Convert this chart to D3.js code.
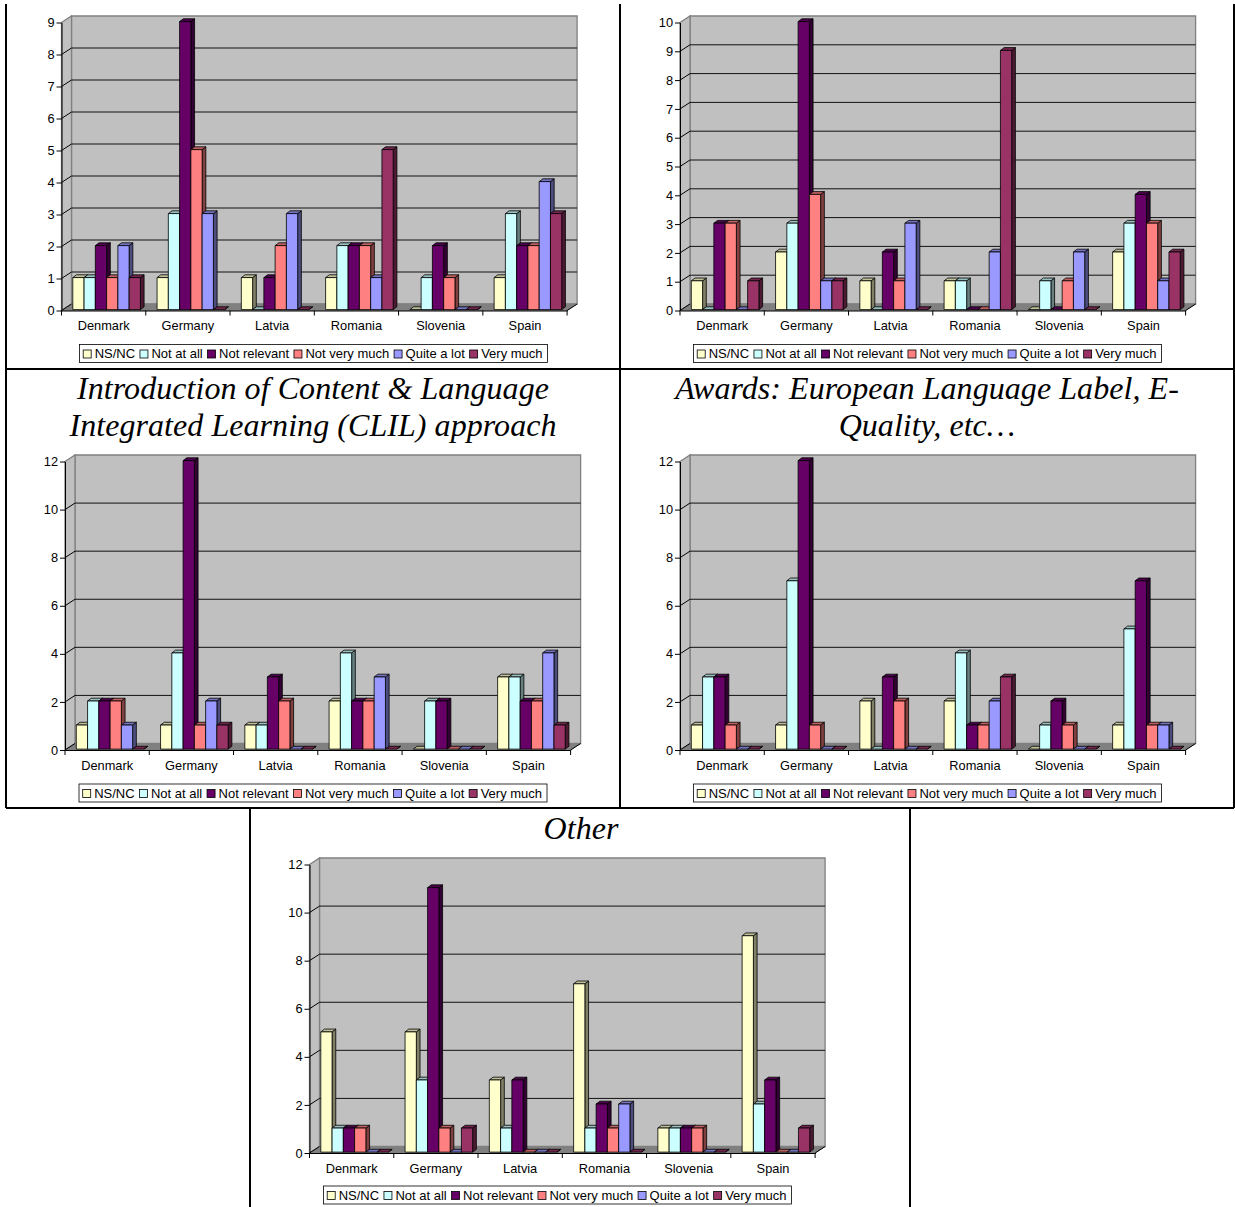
<!DOCTYPE html>
<html><head><meta charset="utf-8">
<script src="https://cdn.jsdelivr.net/npm/d3@7"></script>
<style>html,body{margin:0;padding:0;background:#fff}svg{display:block}</style>
</head><body><svg id="c" width="1235" height="1207"></svg>
<script>
const categories = ["Denmark","Germany","Latvia","Romania","Slovenia","Spain"];
const seriesNames = ["NS/NC","Not at all","Not relevant","Not very much","Quite a lot","Very much"];
const seriesColors = ["#FFFFCC","#CCFFFF","#660066","#FF8080","#9999FF","#993366"];
// one row per category, one value per series
const valuesA = [[1,1,2,1,2,1],[1,3,9,5,3,0],[1,0,1,2,3,0],[1,2,2,2,1,5],[0,1,2,1,0,0],[1,3,2,2,4,3]];
const valuesB = [[1,0,3,3,0,1],[2,3,10,4,1,1],[1,0,2,1,3,0],[1,1,0,0,2,9],[0,1,0,1,2,0],[2,3,4,3,1,2]];
const valuesC = [[1,2,2,2,1,0],[1,4,12,1,2,1],[1,1,3,2,0,0],[2,4,2,2,3,0],[0,2,2,0,0,0],[3,3,2,2,4,1]];
const valuesD = [[1,3,3,1,0,0],[1,7,12,1,0,0],[2,0,3,2,0,0],[2,4,1,1,2,3],[0,1,2,1,0,0],[1,5,7,1,1,0]];
const valuesE = [[5,1,1,1,0,0],[5,3,11,1,0,1],[3,1,3,0,0,0],[7,1,2,1,2,0],[1,1,1,1,0,0],[9,2,3,0,0,1]];
const ticksA = d3.range(0,10), ticksB = d3.range(0,11), ticksC = d3.range(0,13,2);

const panels = [
 {v:valuesA,t:ticksA,x:61.5,zero:310.5,top:22.5,legX:79.5,legY:344.5,title:[],cx:313},
 {v:valuesB,t:ticksB,x:680,zero:310.5,top:22.5,legX:693.5,legY:344.5,title:[],cx:927},
 {v:valuesC,t:ticksC,x:65,zero:750,top:461.5,legX:79,legY:784,title:["Introduction of Content & Language","Integrated Learning (CLIL) approach"],cx:313,ty:399},
 {v:valuesD,t:ticksC,x:680,zero:750,top:461.5,legX:693.5,legY:784,title:["Awards: European Language Label, E-","Quality, etc…"],cx:927,ty:399},
 {v:valuesE,t:ticksC,x:309.5,zero:1153,top:864.5,legX:323.5,legY:1186,title:["Other"],cx:581,ty:839}
];
const W=505.6, DX=10, DY=6.5, BDX=3.7, BDY=2.8, BAR_LIFT=0.9, FONT="'Liberation Sans',Arial,sans-serif";
const svg=d3.select("#c");
const scaleCol=(c,k)=>{const r=d3.rgb(c);return d3.rgb(r.r*k,r.g*k,r.b*k).formatHex();};
const poly=pts=>pts.map(p=>p.join(",")).join(" ");

panels.forEach(p=>{
  const g=svg.append("g");
  const y=d3.scaleLinear().domain([0,d3.max(p.t)]).range([p.zero,p.top]);
  const x=d3.scaleBand().domain(categories).range([p.x,p.x+W]);
  const inner=d3.scaleBand().domain(d3.range(6)).range([11.3,11.3+67.6]);
  // walls
  g.append("polygon").attr("points",poly([[p.x+DX,p.top-DY],[p.x+W+DX,p.top-DY],[p.x+W+DX,p.zero-DY],[p.x+DX,p.zero-DY]])).attr("fill","#C0C0C0").attr("stroke","#808080").attr("stroke-width",1.3);
  g.append("polygon").attr("points",poly([[p.x,p.top],[p.x+DX,p.top-DY],[p.x+DX,p.zero-DY],[p.x,p.zero]])).attr("fill","#C0C0C0").attr("stroke","#808080").attr("stroke-width",1.3);
  g.append("polygon").attr("points",poly([[p.x,p.zero],[p.x+DX,p.zero-DY],[p.x+W+DX,p.zero-DY],[p.x+W,p.zero]])).attr("fill","#808080").attr("stroke","#808080");
  g.append("line").attr("x1",p.x+W).attr("x2",p.x+W+DX).attr("y1",p.zero).attr("y2",p.zero-DY).attr("stroke","#000");
  // gridlines
  p.t.forEach(t=>{
    if(t===d3.max(p.t)) return;
    g.append("line").attr("x1",p.x).attr("x2",p.x+DX).attr("y1",y(t)).attr("y2",y(t)-DY).attr("stroke","#000");
    if(t===0) return;
    g.append("line").attr("x1",p.x+DX).attr("x2",p.x+W+DX).attr("y1",y(t)-DY).attr("y2",y(t)-DY).attr("stroke","#111").attr("stroke-width",1);
  });
  // bars
  categories.forEach((cat,ci)=>{
    p.v[ci].forEach((val,si)=>{
      const c=seriesColors[si], bx=x(cat)+inner(si), bw=inner.bandwidth(), ty=y(val)-BAR_LIFT, by=y(0)-BAR_LIFT;
      const b=g.append("g").attr("stroke","#000").attr("stroke-width",0.8).attr("stroke-linejoin","round");
      b.append("polygon").attr("points",poly([[bx+bw,ty],[bx+bw+BDX,ty-BDY],[bx+bw+BDX,by-BDY],[bx+bw,by]])).attr("fill",scaleCol(c,0.5));
      b.append("polygon").attr("points",poly([[bx,ty],[bx+BDX,ty-BDY],[bx+bw+BDX,ty-BDY],[bx+bw,ty]])).attr("fill",scaleCol(c,0.75));
      if(val>0) b.append("rect").attr("x",bx).attr("y",ty).attr("width",bw).attr("height",by-ty).attr("fill",c);
    });
  });
  // axes
  const ya=g.append("g").attr("transform",`translate(${p.x},0)`).call(d3.axisLeft(y).tickValues(p.t).tickSize(5).tickPadding(2).tickSizeOuter(0));
  ya.selectAll("text").attr("font-family",FONT).attr("font-size",12.8).attr("fill","#000");
  ya.selectAll("line,path").attr("stroke","#000");
  const xa=g.append("g").attr("transform",`translate(0,${p.zero})`).call(d3.axisBottom(x).tickSize(0).tickPadding(10.5));
  xa.selectAll("text").attr("font-family",FONT).attr("font-size",12.8).attr("fill","#000");
  xa.selectAll("path").attr("stroke","#000");
  d3.range(7).forEach(i=>xa.append("line").attr("x1",p.x+i*W/6).attr("x2",p.x+i*W/6).attr("y1",0).attr("y2",5).attr("stroke","#000"));
  // legend
  const lg=svg.append("g").attr("transform",`translate(${p.legX},${p.legY})`);
  lg.append("rect").attr("width",468).attr("height",18).attr("fill","#fff").attr("stroke","#000").attr("stroke-width",.8);
  let lx=3.7;
  seriesNames.forEach((n,i)=>{
    lg.append("rect").attr("x",lx).attr("y",5.5).attr("width",8).attr("height",8).attr("fill",seriesColors[i]).attr("stroke","#000").attr("stroke-width",.8);
    const t=lg.append("text").attr("x",lx+11.5).attr("y",13.5).attr("font-family",FONT).attr("font-size",13).attr("fill","#000").text(n);
    lx+=11.5+t.node().getComputedTextLength()+4.8;
  });
  // title
  p.title.forEach((s,i)=>svg.append("text").attr("x",p.cx).attr("y",p.ty+i*37).attr("text-anchor","middle")
    .attr("font-family","'Liberation Serif','Times New Roman',serif").attr("font-style","italic").attr("font-size",32).attr("letter-spacing",0.06).attr("fill","#000").text(s));
});
// table rules
const rules=[[6,4,6,808],[620,4,620,808],[1234,4,1234,808],[6,369,1234,369],[6,808,1234,808],[250,808,250,1207],[910,808,910,1207]];
rules.forEach(r=>svg.append("line").attr("x1",r[0]).attr("y1",r[1]).attr("x2",r[2]).attr("y2",r[3]).attr("stroke","#000").attr("stroke-width",2));
</script></body></html>
